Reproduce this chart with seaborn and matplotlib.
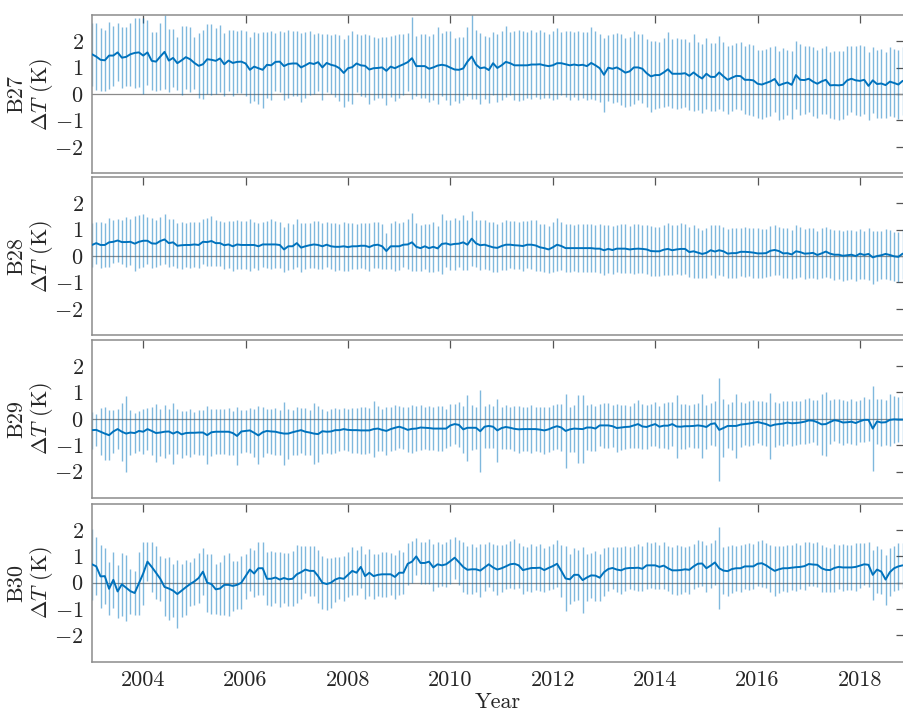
import numpy as np
import pandas as pd
import matplotlib
matplotlib.use("Agg")
import matplotlib.pyplot as plt
import seaborn as sns
from matplotlib.ticker import FixedLocator, FixedFormatter

# ---------------- data (monthly means and 1-sigma half widths, K) ----------------
start_date = "2003-01-01"
n_months = 191
bands = ["B27", "B28", "B29", "B30"]
year_ticks = [2004, 2006, 2008, 2010, 2012, 2014, 2016, 2018]
year_labels = ["2004", "2006", "2008", "2010", "2012", "2014", "2016", "2018"]
y_ticks = [-2, -1, 0, 1, 2]

b27_mean = [
    1.51, 1.42, 1.30, 1.28, 1.46, 1.46, 1.58, 1.38, 1.41, 1.51, 1.56, 1.58,
    1.46, 1.58, 1.26, 1.23, 1.42, 1.60, 1.27, 1.37, 1.17, 1.28, 1.40, 1.32,
    1.18, 1.07, 1.13, 1.32, 1.30, 1.26, 1.35, 1.13, 1.27, 1.18, 1.22, 1.23,
    1.16, 0.92, 1.04, 0.98, 0.92, 1.11, 1.09, 1.22, 1.23, 1.06, 1.14, 1.16,
    1.16, 1.01, 1.09, 1.18, 1.14, 1.21, 1.01, 1.18, 1.11, 1.07, 0.98, 0.80,
    0.98, 1.02, 1.16, 1.09, 1.07, 0.93, 0.98, 0.99, 1.01, 0.88, 1.04, 0.98,
    1.06, 1.13, 1.21, 1.36, 1.06, 1.06, 1.06, 0.96, 1.01, 1.08, 1.11, 1.08,
    1.00, 0.93, 0.92, 0.97, 1.23, 1.42, 1.12, 0.98, 1.01, 0.91, 1.17, 0.99,
    1.09, 1.22, 1.17, 1.09, 1.09, 1.09, 1.09, 1.12, 1.12, 1.13, 1.09, 1.06,
    1.09, 1.17, 1.17, 1.13, 1.09, 1.12, 1.09, 1.11, 1.06, 1.18, 1.09, 0.98,
    0.73, 1.00, 0.96, 1.01, 0.92, 0.81, 0.86, 1.01, 1.01, 0.96, 0.79, 0.67,
    0.72, 0.72, 0.82, 0.94, 0.77, 0.77, 0.77, 0.79, 0.69, 0.82, 0.69, 0.59,
    0.77, 0.65, 0.65, 0.82, 0.67, 0.54, 0.62, 0.69, 0.68, 0.54, 0.54, 0.52,
    0.39, 0.36, 0.42, 0.48, 0.57, 0.33, 0.39, 0.44, 0.35, 0.72, 0.54, 0.53,
    0.58, 0.47, 0.39, 0.48, 0.54, 0.33, 0.34, 0.33, 0.35, 0.52, 0.58, 0.52,
    0.50, 0.54, 0.31, 0.52, 0.38, 0.40, 0.34, 0.47, 0.42, 0.36, 0.50,
]
b27_err = [
    1.19, 1.28, 1.19, 1.15, 1.28, 1.14, 1.10, 1.15, 1.12, 1.19, 1.34, 1.32,
    1.44, 1.22, 1.10, 1.13, 1.26, 1.40, 1.19, 1.09, 1.00, 1.30, 1.20, 1.23,
    0.99, 1.23, 1.30, 1.33, 1.35, 1.25, 1.28, 1.20, 1.15, 1.25, 1.18, 1.20,
    1.22, 1.25, 1.30, 1.35, 1.45, 1.25, 1.30, 1.10, 1.15, 1.30, 1.30, 1.22,
    1.25, 1.30, 1.25, 1.20, 1.12, 1.10, 1.25, 1.10, 1.12, 1.20, 1.25, 1.30,
    1.25, 1.38, 1.10, 1.15, 1.20, 1.30, 1.20, 1.15, 1.15, 1.30, 1.15, 1.25,
    1.20, 1.15, 1.10, 1.55, 1.15, 1.20, 1.20, 1.25, 1.25, 1.45, 1.20, 1.30,
    1.40, 1.20, 1.25, 1.20, 1.30, 1.60, 1.30, 1.35, 1.20, 1.25, 1.20, 1.30,
    1.30, 1.35, 1.20, 1.30, 1.35, 1.30, 1.25, 1.30, 1.25, 1.30, 1.25, 1.20,
    1.30, 1.35, 1.20, 1.25, 1.30, 1.25, 1.30, 1.25, 1.30, 1.35, 1.30, 1.30,
    1.40, 1.25, 1.30, 1.30, 1.35, 1.30, 1.30, 1.40, 1.25, 1.30, 1.30, 1.35,
    1.30, 1.25, 1.30, 1.40, 1.30, 1.35, 1.30, 1.30, 1.30, 1.45, 1.30, 1.30,
    1.35, 1.30, 1.30, 1.40, 1.30, 1.30, 1.25, 1.25, 1.30, 1.30, 1.35, 1.35,
    1.30, 1.30, 1.30, 1.30, 1.25, 1.30, 1.35, 1.25, 1.30, 1.30, 1.35, 1.30,
    1.25, 1.30, 1.30, 1.25, 1.30, 1.25, 1.30, 1.30, 1.30, 1.30, 1.25, 1.30,
    1.35, 1.30, 1.30, 1.25, 1.30, 1.30, 1.25, 1.30, 1.30, 1.30, 1.30,
]

b28_mean = [
    0.42, 0.49, 0.42, 0.42, 0.52, 0.54, 0.59, 0.53, 0.53, 0.54, 0.47, 0.54,
    0.58, 0.58, 0.48, 0.47, 0.57, 0.63, 0.49, 0.52, 0.39, 0.41, 0.42, 0.42,
    0.44, 0.42, 0.54, 0.53, 0.57, 0.49, 0.49, 0.41, 0.44, 0.37, 0.44, 0.42,
    0.42, 0.42, 0.42, 0.37, 0.44, 0.44, 0.44, 0.44, 0.42, 0.25, 0.37, 0.37,
    0.49, 0.32, 0.37, 0.41, 0.44, 0.42, 0.37, 0.43, 0.37, 0.35, 0.35, 0.37,
    0.34, 0.37, 0.37, 0.39, 0.39, 0.34, 0.41, 0.43, 0.37, 0.19, 0.37, 0.37,
    0.37, 0.43, 0.44, 0.52, 0.35, 0.30, 0.37, 0.30, 0.35, 0.29, 0.46, 0.48,
    0.43, 0.46, 0.47, 0.52, 0.43, 0.66, 0.48, 0.41, 0.43, 0.38, 0.33, 0.31,
    0.38, 0.43, 0.43, 0.41, 0.40, 0.38, 0.43, 0.43, 0.40, 0.33, 0.30, 0.25,
    0.33, 0.43, 0.38, 0.30, 0.30, 0.30, 0.30, 0.30, 0.30, 0.30, 0.28, 0.28,
    0.22, 0.27, 0.23, 0.28, 0.28, 0.28, 0.25, 0.27, 0.28, 0.27, 0.25, 0.19,
    0.18, 0.18, 0.24, 0.27, 0.22, 0.25, 0.27, 0.27, 0.15, 0.18, 0.13, 0.08,
    0.12, 0.22, 0.17, 0.22, 0.18, 0.09, 0.11, 0.11, 0.16, 0.16, 0.15, 0.13,
    0.10, 0.10, 0.11, 0.20, 0.23, 0.19, 0.10, 0.11, 0.06, 0.18, 0.15, 0.09,
    0.10, 0.12, 0.04, 0.10, 0.17, 0.09, 0.05, 0.05, 0.01, 0.03, 0.05, 0.00,
    0.09, 0.04, 0.08, -0.05, 0.00, 0.03, 0.08, 0.04, -0.01, -0.03, 0.09,
]
b28_err = [
    0.85, 0.80, 0.88, 0.85, 0.92, 0.82, 0.80, 0.85, 0.95, 0.88, 1.05, 1.00,
    1.00, 0.90, 0.95, 0.90, 0.92, 0.95, 0.90, 0.88, 0.85, 0.90, 0.85, 0.88,
    0.85, 0.88, 0.85, 0.92, 0.95, 0.88, 0.85, 0.90, 0.88, 0.95, 0.92, 0.90,
    0.92, 1.00, 0.88, 0.90, 0.85, 0.90, 0.95, 0.90, 0.88, 0.85, 0.90, 0.85,
    0.90, 0.92, 0.88, 0.85, 0.90, 0.90, 0.88, 0.85, 0.88, 0.90, 0.88, 0.92,
    0.90, 0.88, 0.85, 0.85, 0.88, 0.90, 0.88, 0.88, 0.85, 0.70, 0.88, 0.95,
    0.90, 0.85, 0.95, 1.10, 0.90, 0.88, 0.85, 0.90, 0.95, 0.85, 1.15, 0.90,
    0.95, 1.00, 0.90, 1.05, 0.95, 1.05, 0.90, 0.95, 0.92, 0.90, 0.95, 0.90,
    0.92, 0.95, 0.90, 0.92, 0.90, 0.95, 0.90, 0.92, 0.95, 0.90, 0.92, 0.90,
    0.95, 1.00, 0.90, 0.92, 0.90, 0.88, 0.90, 0.92, 0.90, 0.92, 0.90, 0.92,
    0.95, 0.92, 0.90, 0.88, 0.92, 0.92, 0.90, 0.95, 0.92, 0.90, 0.92, 0.95,
    0.92, 0.92, 0.95, 1.00, 0.95, 0.92, 1.00, 0.95, 0.95, 1.00, 0.95, 0.92,
    0.95, 0.95, 1.00, 0.95, 0.92, 0.92, 0.95, 0.95, 0.92, 0.95, 0.92, 0.95,
    0.95, 0.92, 0.92, 0.95, 0.95, 0.92, 0.95, 0.95, 0.92, 1.00, 0.95, 0.95,
    0.95, 0.95, 0.92, 0.95, 0.95, 0.92, 0.95, 0.92, 0.95, 0.95, 0.92, 0.95,
    0.95, 0.92, 1.00, 1.00, 0.95, 0.92, 0.95, 0.95, 0.92, 0.95, 0.95,
]

b29_mean = [
    -0.43, -0.42, -0.49, -0.56, -0.62, -0.48, -0.39, -0.49, -0.56, -0.52, -0.54, -0.46,
    -0.49, -0.39, -0.46, -0.54, -0.52, -0.49, -0.48, -0.56, -0.49, -0.59, -0.54, -0.53,
    -0.53, -0.52, -0.52, -0.62, -0.51, -0.49, -0.49, -0.49, -0.49, -0.54, -0.65, -0.48,
    -0.46, -0.44, -0.53, -0.63, -0.51, -0.46, -0.48, -0.49, -0.53, -0.56, -0.56, -0.51,
    -0.47, -0.43, -0.49, -0.52, -0.56, -0.58, -0.47, -0.49, -0.48, -0.43, -0.43, -0.39,
    -0.42, -0.43, -0.43, -0.44, -0.44, -0.44, -0.39, -0.37, -0.42, -0.46, -0.39, -0.34,
    -0.30, -0.35, -0.42, -0.38, -0.37, -0.33, -0.34, -0.35, -0.37, -0.37, -0.37, -0.37,
    -0.25, -0.20, -0.23, -0.40, -0.34, -0.34, -0.34, -0.47, -0.30, -0.27, -0.30, -0.44,
    -0.35, -0.31, -0.34, -0.38, -0.40, -0.39, -0.39, -0.39, -0.39, -0.41, -0.44, -0.40,
    -0.33, -0.28, -0.33, -0.46, -0.40, -0.37, -0.38, -0.39, -0.33, -0.33, -0.37, -0.25,
    -0.25, -0.25, -0.28, -0.35, -0.33, -0.31, -0.30, -0.25, -0.20, -0.29, -0.31, -0.25,
    -0.20, -0.30, -0.26, -0.26, -0.20, -0.29, -0.30, -0.28, -0.28, -0.27, -0.25, -0.27,
    -0.31, -0.20, -0.17, -0.42, -0.35, -0.27, -0.27, -0.27, -0.22, -0.20, -0.18, -0.15,
    -0.12, -0.16, -0.20, -0.27, -0.22, -0.20, -0.18, -0.14, -0.17, -0.16, -0.14, -0.11,
    -0.06, -0.07, -0.13, -0.21, -0.20, -0.12, -0.05, -0.08, -0.14, -0.13, -0.11, -0.16,
    -0.09, -0.04, -0.04, -0.37, -0.10, -0.14, -0.13, -0.04, -0.02, -0.03, -0.03,
]
b29_err = [
    0.70, 0.62, 0.90, 1.00, 0.95, 0.80, 0.75, 1.10, 1.44, 0.85, 0.75, 0.75,
    0.85, 0.80, 0.90, 1.10, 0.90, 1.00, 0.85, 1.15, 0.85, 0.90, 0.85, 0.90,
    0.80, 0.85, 0.85, 1.10, 0.90, 0.85, 0.85, 0.85, 0.90, 0.85, 1.10, 0.80,
    0.80, 0.85, 0.90, 1.10, 0.95, 0.85, 0.85, 0.90, 0.85, 1.20, 0.95, 0.85,
    0.90, 0.85, 0.90, 0.85, 1.15, 1.05, 0.85, 0.80, 0.85, 0.85, 0.80, 0.80,
    0.80, 0.85, 0.85, 0.90, 0.90, 0.85, 1.05, 0.85, 0.80, 0.90, 0.85, 0.85,
    0.80, 0.80, 0.85, 0.90, 0.85, 0.85, 0.80, 0.85, 0.80, 0.85, 0.85, 0.75,
    0.80, 0.75, 0.85, 0.90, 1.25, 0.85, 0.80, 1.55, 0.80, 0.85, 0.80, 1.20,
    0.80, 0.85, 0.80, 0.85, 0.90, 0.85, 0.85, 0.90, 0.85, 0.85, 0.90, 0.85,
    0.85, 0.85, 0.90, 1.40, 0.85, 0.90, 1.30, 1.30, 0.85, 0.90, 0.85, 0.80,
    0.85, 0.85, 0.80, 0.90, 0.85, 0.85, 0.80, 0.85, 0.90, 0.85, 0.85, 0.80,
    0.85, 0.80, 0.85, 0.90, 0.85, 1.20, 0.85, 0.85, 0.80, 0.85, 0.85, 1.20,
    0.85, 0.80, 0.85, 1.95, 1.10, 0.85, 0.90, 1.20, 0.85, 0.80, 0.85, 0.85,
    0.80, 0.85, 0.85, 1.25, 0.85, 0.80, 0.85, 0.80, 0.85, 0.85, 0.80, 0.85,
    0.85, 0.80, 0.85, 1.15, 1.20, 0.85, 0.80, 0.85, 0.85, 0.80, 0.85, 0.85,
    0.80, 0.85, 0.80, 1.60, 0.85, 0.90, 0.85, 1.00, 0.90, 0.85, 0.90,
]

b30_mean = [
    0.70, 0.62, 0.24, 0.25, -0.23, 0.11, -0.33, -0.06, -0.19, -0.32, -0.39, -0.02,
    0.35, 0.80, 0.60, 0.38, 0.15, -0.16, -0.22, -0.30, -0.43, -0.30, -0.17, -0.05,
    0.05, 0.18, 0.42, 0.00, -0.05, -0.25, -0.22, -0.08, -0.08, -0.12, -0.08, 0.00,
    0.25, 0.50, 0.35, 0.55, 0.55, 0.15, 0.15, 0.20, 0.12, 0.18, 0.13, 0.15,
    0.32, 0.40, 0.50, 0.45, 0.45, 0.25, 0.00, -0.05, 0.00, 0.12, 0.18, 0.15,
    0.30, 0.45, 0.38, 0.60, 0.25, 0.38, 0.25, 0.30, 0.32, 0.32, 0.32, 0.22,
    0.38, 0.38, 0.72, 0.80, 1.00, 0.75, 0.75, 0.80, 0.58, 0.70, 0.66, 0.70,
    0.82, 0.95, 0.78, 0.60, 0.49, 0.51, 0.51, 0.46, 0.58, 0.70, 0.58, 0.50,
    0.55, 0.62, 0.70, 0.72, 0.66, 0.48, 0.52, 0.56, 0.56, 0.57, 0.48, 0.56,
    0.63, 0.72, 0.45, 0.16, 0.13, 0.30, 0.30, 0.10, 0.20, 0.28, 0.27, 0.19,
    0.40, 0.52, 0.56, 0.50, 0.47, 0.54, 0.56, 0.56, 0.57, 0.53, 0.66, 0.66,
    0.66, 0.60, 0.65, 0.55, 0.47, 0.47, 0.48, 0.51, 0.49, 0.62, 0.72, 0.73,
    0.55, 0.65, 0.77, 0.55, 0.46, 0.44, 0.52, 0.55, 0.55, 0.62, 0.62, 0.62,
    0.72, 0.74, 0.66, 0.55, 0.45, 0.51, 0.55, 0.55, 0.57, 0.59, 0.60, 0.63,
    0.71, 0.69, 0.68, 0.55, 0.49, 0.48, 0.56, 0.60, 0.58, 0.58, 0.58, 0.60,
    0.65, 0.70, 0.68, 0.30, 0.50, 0.42, 0.12, 0.40, 0.55, 0.62, 0.66,
]
b30_err = [
    1.35, 1.10, 1.20, 1.05, 1.00, 1.05, 1.00, 1.20, 1.25, 0.85, 0.85, 1.20,
    1.20, 0.75, 0.95, 1.00, 0.85, 1.10, 1.20, 1.00, 1.30, 1.00, 1.05, 0.85,
    0.90, 0.95, 0.90, 1.10, 1.15, 0.95, 1.00, 1.15, 1.20, 0.95, 0.90, 1.00,
    0.85, 0.80, 0.90, 1.00, 1.00, 1.00, 1.05, 0.95, 1.05, 0.95, 1.00, 1.05,
    1.10, 1.00, 0.90, 0.95, 0.95, 1.00, 1.00, 1.00, 0.95, 0.85, 0.80, 0.85,
    0.85, 0.90, 0.85, 0.80, 0.85, 0.90, 0.85, 0.80, 0.85, 0.85, 0.80, 0.85,
    0.85, 0.80, 0.80, 0.80, 0.70, 0.80, 0.80, 0.85, 0.90, 0.85, 0.80, 0.85,
    0.85, 0.80, 0.85, 0.95, 0.90, 0.95, 0.85, 1.00, 0.90, 0.85, 0.90, 0.95,
    0.90, 0.85, 0.90, 0.95, 0.85, 0.90, 0.85, 0.90, 0.85, 0.90, 0.85, 0.85,
    0.85, 0.90, 1.00, 1.25, 0.95, 1.00, 0.95, 1.25, 0.90, 0.85, 0.95, 0.90,
    0.90, 0.85, 0.80, 0.85, 0.90, 0.85, 0.80, 0.85, 0.90, 0.85, 0.90, 0.85,
    0.90, 0.85, 0.90, 0.85, 0.90, 0.95, 0.90, 0.85, 0.90, 0.85, 0.90, 0.85,
    0.90, 0.85, 0.85, 1.55, 0.90, 0.95, 0.90, 0.85, 0.90, 0.85, 0.90, 0.85,
    0.85, 0.90, 0.85, 0.90, 0.95, 0.90, 0.85, 0.90, 0.85, 0.90, 0.85, 0.90,
    0.85, 0.80, 0.85, 0.90, 0.85, 0.85, 0.90, 0.85, 0.90, 0.85, 0.85, 0.90,
    0.85, 0.80, 0.85, 0.95, 0.90, 0.85, 0.95, 0.90, 0.85, 0.90, 0.85,
]

means = {"B27": b27_mean, "B28": b28_mean, "B29": b29_mean, "B30": b30_mean}
errs = {"B27": b27_err, "B28": b28_err, "B29": b29_err, "B30": b30_err}

# ---------------- style ----------------
sns.set_theme(style="white")
plt.rcParams["font.family"] = ["cmr10", "DejaVu Serif"]
plt.rcParams["mathtext.fontset"] = "cm"
plt.rcParams["axes.formatter.use_mathtext"] = True
plt.rcParams["axes.unicode_minus"] = True

LINE_C = "#0072BD"
SPINE_C = "#8c8c8c"
TEXT_C = "#262626"
FS = 16

dates = pd.date_range(start_date, periods=n_months, freq="MS")
dec_year = dates.year + (dates.month - 1) / 12.0

fig = plt.figure(figsize=(9.04, 7.13), dpi=100)
left, width, height = 92 / 904, 812 / 904, 0.2218
bottoms = [0.7572, 0.5300, 0.3017, 0.0718]

for i, band in enumerate(bands):
    ax = fig.add_axes([left, bottoms[i], width, height])
    df = pd.DataFrame({"year": dec_year, "dT": means[band], "err": errs[band]})
    ax.axhline(0, color="#8a8a8a", lw=0.9, zorder=1)
    ax.errorbar(df["year"], df["dT"], yerr=df["err"], fmt="none",
                ecolor=LINE_C, elinewidth=1.0, alpha=0.5, capsize=0, zorder=2)
    sns.lineplot(data=df, x="year", y="dT", ax=ax, color=LINE_C, lw=1.4,
                 zorder=3, legend=False)
    ax.set_xlim(2003.0, 2018.86)
    ax.set_ylim(-3, 3)
    ax.xaxis.set_major_locator(FixedLocator(year_ticks))
    ax.yaxis.set_major_locator(FixedLocator(y_ticks))
    ax.tick_params(axis="both", which="major", direction="in", length=6,
                   width=0.9, color="#555555", labelsize=FS, labelcolor=TEXT_C,
                   top=True, right=True, pad=6)
    if i == len(bands) - 1:
        ax.xaxis.set_major_formatter(FixedFormatter(year_labels))
        ax.set_xlabel("Year", fontsize=FS, color=TEXT_C, labelpad=2)
    else:
        ax.set_xticklabels([])
        ax.set_xlabel("")
    ax.set_ylabel(band + "\n" + r"$\Delta T$ (K)", fontsize=FS, color=TEXT_C,
                  linespacing=1.05)
    ax.yaxis.set_label_coords(-0.046, 0.5)
    for s in ax.spines.values():
        s.set_color(SPINE_C)
        s.set_linewidth(1.1)

fig.savefig("out.png", dpi=100)
